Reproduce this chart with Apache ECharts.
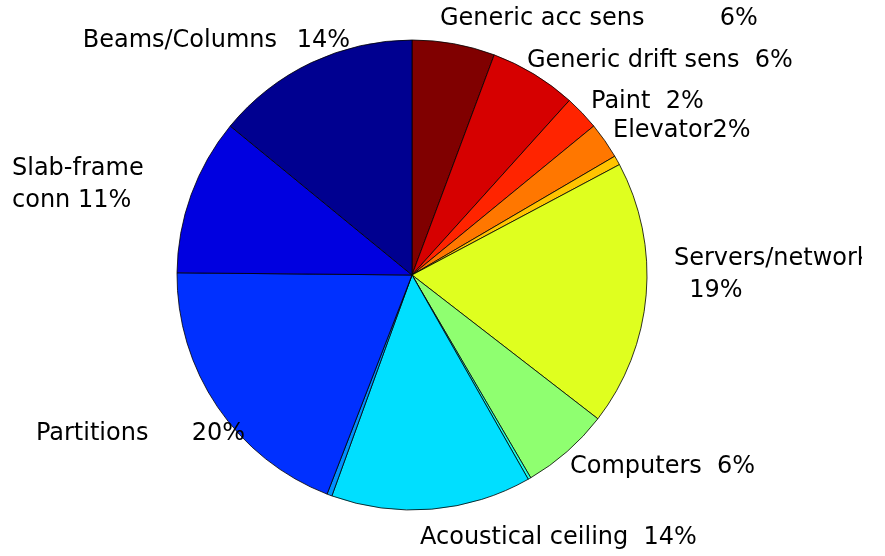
<!DOCTYPE html>
<html>
<head>
<meta charset="utf-8">
<script src="https://cdn.jsdelivr.net/npm/echarts@6/dist/echarts.min.js"></script>
<style>
html,body{margin:0;padding:0;background:#fff;}
#c{width:862px;height:556px;overflow:hidden;}
</style>
</head>
<body>
<div id="c"></div>
<script>
// Slices, clockwise from 12 o'clock
var categories = ['Generic acc sens','Generic drift sens','Paint','Elevator','Other A','Servers/network','Computers','Other B','Acoustical ceiling','Other C','Partitions','Slab-frame conn','Beams/Columns'];
var values = [5.7, 6.0, 2.4, 2.5, 0.65, 18.3, 6.1, 0.2, 13.8, 0.35, 19.3, 10.8, 14.1];
var labelTexts = ['Generic acc sens  6%','Generic drift sens  6%','Paint  2%','Elevator2%','','Servers/network\n  19%','Computers  6%','','Acoustical ceiling  14%','','Partitions  20%','Slab-frame\nconn 11%','Beams/Columns 14%'];
var colors = ['#800000','#d60000','#ff2400','#ff7700','#ffc400','#dfff1f','#8fff70','#20ffdf','#00dfff','#0090ff','#0030ff','#0000e0','#000090'];

// label anchor positions (styling only)
var labelPos = {
  0:{x:440,y:19,align:'left'},
  1:{x:527,y:61,align:'left'},
  2:{x:591,y:102,align:'left'},
  3:{x:613,y:131,align:'left'},
  5:{x:674,y:275,align:'left'},
  6:{x:570,y:467,align:'left'},
  8:{x:420,y:538,align:'left'},
  10:{x:245,y:434,align:'right'},
  11:{x:12,y:185,align:'left'},
  12:{x:350,y:41,align:'right'}
};
// extra gap (px) between a label's name and its percentage
var labelGap = {0:60, 10:28, 12:12};

var data = categories.map(function(c,i){
  var t = labelTexts[i];
  var fmt = t;
  if (labelGap[i]) {
    var k = t.lastIndexOf(' ');
    fmt = '{a|' + t.slice(0,k+1) + '}{g|}{a|' + t.slice(k+1) + '}';
  }
  return {
    name:c, value:values[i],
    itemStyle:{color:colors[i]},
    label:{show: t !== '', formatter: fmt,
      rich: labelGap[i] ? {a:{fontFamily:'DejaVu Sans, sans-serif',fontSize:24,color:'#000'}, g:{width:labelGap[i]}} : undefined}
  };
});

var chart = echarts.init(document.getElementById('c'), null, {renderer:'canvas'});
chart.setOption({
  animation:false,
  series:[{
    type:'pie',
    center:[412,275],
    radius:[0,235],
    startAngle:90,
    clockwise:true,
    avoidLabelOverlap:false,
    data:data,
    itemStyle:{borderColor:'#000',borderWidth:0.8},
    label:{
      position:'outside',
      fontFamily:'DejaVu Sans, sans-serif',
      fontSize:24,
      color:'#000',
      lineHeight:32
    },
    labelLine:{show:false},
    labelLayout:function(p){
      var lp = labelPos[p.dataIndex];
      if(!lp) return {};
      return {x:lp.x,y:lp.y,align:lp.align,verticalAlign:'middle'};
    },
    emphasis:{disabled:true}
  }]
});
</script>
</body>
</html>
